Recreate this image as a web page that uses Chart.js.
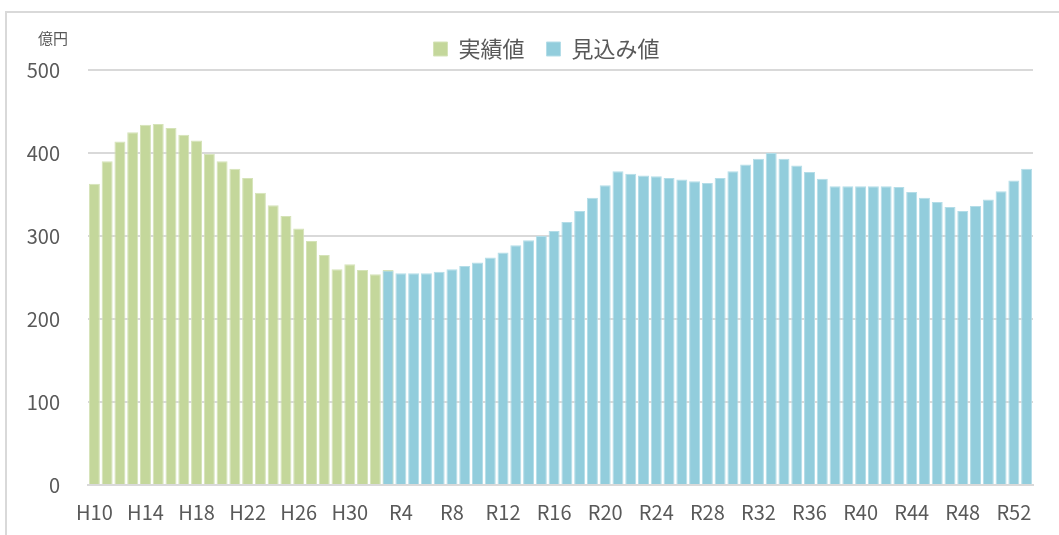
<!DOCTYPE html>
<html lang="ja">
<head>
<meta charset="UTF-8">
<title>実績値と見込み値</title>
<style>
    * { margin: 0; padding: 0; box-sizing: border-box; }
    body { width: 1059px; height: 535px; overflow: hidden; background: #fff; position: relative;
           font-family: "Noto Sans CJK JP", "Noto Sans", sans-serif; }
    .frame { position: absolute; left: 5px; top: 11px; width: 1080px; height: 560px; border: 2px solid #d9d9d9; }
    .unit { position: absolute; left: 38px; top: 27px; font-size: 15px; color: #595959; }
    canvas { position: absolute; left: 0; top: 0; }
</style>
</head>
<body>
<div class="frame"></div>
<canvas id="chart" width="1059" height="535"></canvas>
<div class="unit">億円</div>

<script src="https://cdn.jsdelivr.net/npm/chart.js"></script>
<script>
    // categories (H10..H30, R1..R53)
    var categories = [
        'H10','H11','H12','H13','H14','H15','H16','H17','H18','H19','H20',
        'H21','H22','H23','H24','H25','H26','H27','H28','H29','H30',
        'R1','R2','R3','R4','R5','R6','R7','R8','R9','R10',
        'R11','R12','R13','R14','R15','R16','R17','R18','R19','R20',
        'R21','R22','R23','R24','R25','R26','R27','R28','R29','R30',
        'R31','R32','R33','R34','R35','R36','R37','R38','R39','R40',
        'R41','R42','R43','R44','R45','R46','R47','R48','R49','R50',
        'R51','R52','R53'
    ];

    // 実績値: H10 .. R3
    var actualValues = [
        363, 390, 414, 425, 434, 435, 430, 422, 415, 399,
        390, 381, 370, 352, 337, 324, 309, 294, 277, 260,
        266, 259, 254, 259
    ];

    // 見込み値: R3 .. R53
    var projectedValues = [
        258, 255, 255, 255, 257, 260, 264, 268, 274, 280,
        289, 295, 300, 306, 317, 330, 346, 361, 378, 375,
        373, 372, 370, 368, 366, 364, 370, 378, 386, 393,
        400, 393, 385, 377, 369, 360, 360, 360, 360, 360,
        359, 353, 346, 341, 335, 330, 336, 344, 354, 367,
        381
    ];

    var yMin = 0, yMax = 500, yStep = 100;
    var projectedStart = 23; // index of R3

    var actualData = categories.map(function (c, i) {
        return i < actualValues.length ? actualValues[i] : null;
    });
    var projectedData = categories.map(function (c, i) {
        return i >= projectedStart ? projectedValues[i - projectedStart] : null;
    });

    var textColor = '#595959';
    var gridColor = '#d9d9d9';
    var font = '"Noto Sans CJK JP", "Noto Sans", sans-serif';

    // nudge the legend to the right, like the original
    var legendShift = {
        id: 'legendShift',
        afterLayout: function (chart) {
            chart.legend.left += 20;
            chart.legend.right += 20;
        }
    };

    var ctx = document.getElementById('chart').getContext('2d');
    var chart = new Chart(ctx, {
        type: 'bar',
        data: {
            labels: categories,
            datasets: [{
                label: '実績値',
                data: actualData,
                backgroundColor: '#c4d79b',
                borderColor: '#d5e3b8',
                borderWidth: 1,
                order: 2
            }, {
                label: '見込み値',
                data: projectedData,
                backgroundColor: '#92cddc',
                borderColor: '#b4dde8',
                borderWidth: 1,
                order: 1
            }]
        },
        plugins: [legendShift],
        options: {
            responsive: false,
            devicePixelRatio: 1,
            animation: false,
            datasets: {
                bar: { grouped: false, barPercentage: 0.86, categoryPercentage: 1 }
            },
            layout: { padding: { left: 20, right: 26, top: 16, bottom: 0 } },
            plugins: {
                tooltip: { enabled: false },
                legend: {
                    position: 'top',
                    reverse: true,
                    labels: {
                        color: textColor,
                        font: { family: font, size: 22 },
                        boxWidth: 14,
                        boxHeight: 14,
                        padding: 22
                    }
                }
            },
            scales: {
                x: {
                    afterFit: function (scale) { scale.height = 50; },
                    grid: { display: false, drawTicks: false },
                    border: { display: true, color: gridColor, width: 2 },
                    ticks: {
                        autoSkip: false,
                        maxRotation: 0,
                        padding: 15,
                        color: textColor,
                        font: { family: font, size: 20 },
                        callback: function (v, i) { return i % 4 === 0 ? categories[i] : ''; }
                    }
                },
                y: {
                    min: yMin,
                    max: yMax,
                    afterFit: function (scale) { scale.width = 68; },
                    grid: { color: gridColor, lineWidth: 2, drawTicks: false },
                    border: { display: false },
                    ticks: {
                        stepSize: yStep,
                        padding: 28,
                        color: textColor,
                        font: { family: font, size: 20 }
                    }
                }
            }
        }
    });
</script>
</body>
</html>
